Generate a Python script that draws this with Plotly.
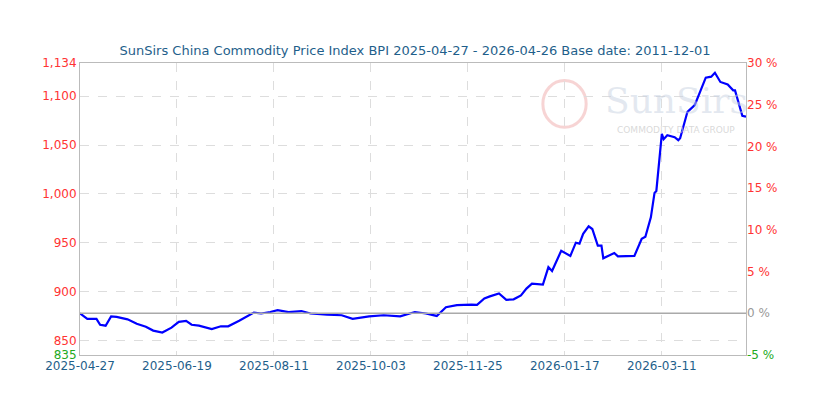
import plotly.graph_objects as go
import pandas as pd

start = "2025-04-27"
day_offsets = [0,4,9,11,14,17,20,26,31,36,40,45,50,54,58,61,65,72,77,81,87,91,95,99,104,108,114,121,126,135,143,149,158,166,175,183,189,195,200,206,209,214,217,221,224,229,233,237,241,244,247,253,256,258,263,268,271,273,275,278,280,283,285,286,292,294,303,307,309,312,314,315,318,319,321,325,327,328,332,336,339,342,345,347,350,354,357,358,362,364]
values = [877.5,872,872,866,865,874.6,874,871.5,867,864,860,858,863,869,870,866,865,861.6,864.4,864.4,870,874.6,878.5,877.5,879,881,879,880,877.5,876.4,875.7,872,874.6,875.7,874.6,879,877.5,875,884,886,886.3,886.5,886.3,893,895,898,891.5,892,896,903,908,907,925,921,941.7,936.5,950,949,959,966.7,964,947,947,934,939.5,936,936.5,954,956,976,1001,1003,1061.5,1056,1060,1058,1055,1057,1084,1091,1105,1119,1120,1124,1114.6,1112,1106,1106,1080,1079]
dates = pd.to_datetime(start) + pd.to_timedelta(day_offsets, unit="D")

x_ticks = ["2025-04-27","2025-06-19","2025-08-11","2025-10-03","2025-11-25","2026-01-17","2026-03-11"]
left_vals = [835,850,900,950,1000,1050,1100,1134]
left_text = ["835","850","900","950","1,000","1,050","1,100","1,134"]
right_vals = [-5,0,5,10,15,20,25,30]

RED = "#ff3333"; GREEN = "#22aa22"; GRAY = "#999999"
lt = [f"<span style='color:{GREEN if v==835 else RED}'>{t}</span>" for v, t in zip(left_vals, left_text)]
rt = []
for v in right_vals:
    c = GREEN if v < 0 else (GRAY if v == 0 else RED)
    rt.append(f"<span style='color:{c}'>{v} %</span>")

fig = go.Figure()
fig.add_trace(go.Scatter(x=[dates[0], dates[-1]], y=[0, 0], yaxis="y2", mode="lines",
                         line=dict(color="#aaaaaa", width=1.5), hoverinfo="skip", showlegend=False))
fig.add_trace(go.Scatter(x=dates, y=values, mode="lines", line=dict(color="#0000ff", width=2.2), showlegend=False))

fig.update_layout(
    width=814, height=407, paper_bgcolor="white", plot_bgcolor="white",
    margin=dict(l=72, r=76, t=55, b=60),
    font=dict(family="DejaVu Sans", size=11),
    title=dict(text="SunSirs China Commodity Price Index BPI 2025-04-27 - 2026-04-26 Base date: 2011-12-01",
               x=0.5, xanchor="center", y=0.895, yanchor="middle", font=dict(size=13, color="#1f5f8b")),
    xaxis=dict(range=[dates[0], dates[-1]], tickvals=pd.to_datetime(x_ticks), ticktext=x_ticks,
               tickfont=dict(color="#1f5f8b", size=12), showgrid=True, gridcolor="#dddddd", griddash="dash",
               showline=True, linecolor="#bbbbbb", mirror=True, zeroline=False, ticks=""),
    yaxis=dict(range=[835, 1134], tickvals=left_vals, ticktext=lt, showgrid=True, gridcolor="#dddddd",
               griddash="dash", showline=True, linecolor="#bbbbbb", mirror=True, zeroline=False,
               tickfont=dict(size=12)),
    yaxis2=dict(range=[-5, 30], overlaying="y", side="right", tickvals=right_vals, ticktext=rt,
                showgrid=False, zeroline=False, tickfont=dict(size=12)),
    shapes=[dict(type="circle", xref="paper", yref="paper", x0=0.695, x1=0.76, y0=0.78, y1=0.94,
                 line=dict(color="rgba(240,170,170,0.5)", width=3), layer="below")],
    annotations=[
        dict(text="SunSirs", x=0.895, y=0.87, xref="paper", yref="paper", xanchor="center", yanchor="middle",
             showarrow=False, font=dict(size=36, color="rgba(200,210,225,0.5)", family="DejaVu Serif")),
        dict(text="COMMODITY DATA GROUP", x=0.895, y=0.77, xref="paper", yref="paper", xanchor="center",
             yanchor="middle", showarrow=False, font=dict(size=9, color="rgba(200,200,200,0.7)")),
    ],
)
fig.write_html("out.html")
